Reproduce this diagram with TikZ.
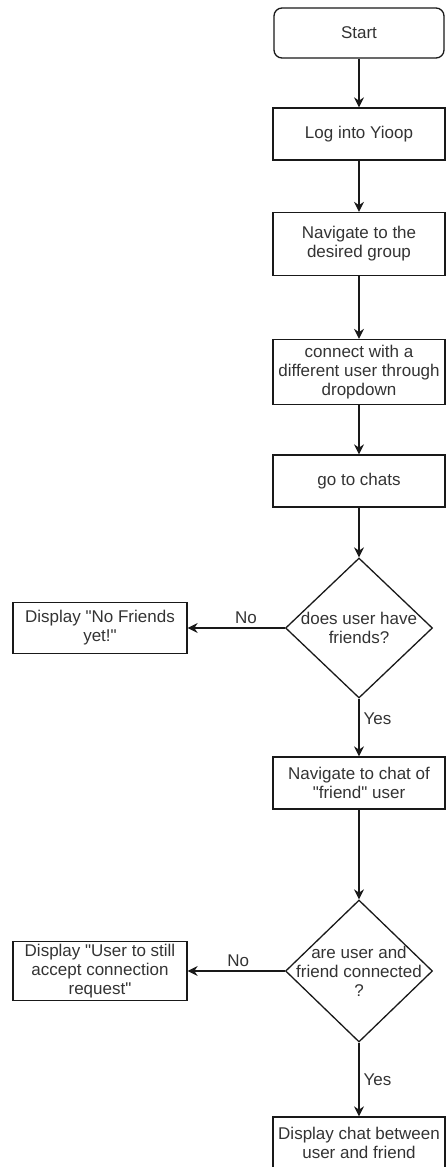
\documentclass[tikz,border=0pt]{standalone}
\usepackage{fontspec}
\setmainfont{Liberation Sans}[Ligatures=TeXOff]
\usetikzlibrary{shapes.geometric,arrows.meta}
\begin{document}
\begin{tikzpicture}[x=1pt,y=-1pt,font=\fontsize{17}{19}\selectfont]
	\tikzset{flow_box/.style={draw=black!90,line width=1.3pt,minimum width=172pt,minimum height=52pt,align=center,inner sep=0pt,text=black!80}}
	\tikzset{start_box/.style={flow_box,rounded corners=8pt,minimum width=170pt,minimum height=50pt}}
	\tikzset{decision_box/.style={draw=black!90,line width=1.3pt,shape=diamond,minimum width=147pt,minimum height=140pt,inner sep=0pt}}
	\tikzset{flow_arrow/.style={draw=black!90,line width=1.3pt,-{Stealth[length=10pt,width=10pt]}}}
	\tikzset{edge_text/.style={text=black!80,inner sep=4pt}}
	\useasboundingbox (0,0) rectangle (445,1167);
	\node[start_box] (start) at (359, 33) {Start};
	\node[flow_box] (login) at (359, 134) {Log into Yioop};
	\node[flow_box,minimum height=63pt] (group) at (359, 244) {Navigate to the\\desired group};
	\node[flow_box,minimum height=65pt] (connect) at (359, 372) {connect with a\\different user through\\dropdown};
	\node[flow_box] (chats) at (359, 481) {go to chats};
	\node[decision_box,label={[align=center,text=black!80]center:does user have\\friends?}] (friends) at (359, 628) {};
	\node[flow_box,minimum width=174pt,minimum height=51pt] (nofriends) at (100, 628) {Display "No Friends\\yet!"};
	\node[flow_box] (chatof) at (359, 783) {Navigate to chat of\\"friend" user};
	\node[decision_box,minimum height=142pt,label={[align=center,text=black!80]center:are user and\\friend connected\\?}] (connected) at (359, 971) {};
	\node[flow_box,minimum width=174pt,minimum height=59pt] (pending) at (100, 971) {Display "User to still\\accept connection\\request"};
	\node[flow_box] (display) at (359, 1143) {Display chat between\\user and friend};
	\draw[flow_arrow] (start) -- (login);
	\draw[flow_arrow] (login) -- (group);
	\draw[flow_arrow] (group) -- (connect);
	\draw[flow_arrow] (connect) -- (chats);
	\draw[flow_arrow] (chats) -- (friends);
	\draw[flow_arrow] (friends) -- node[edge_text,above,pos=0.4] {No} (nofriends);
	\draw[flow_arrow] (friends) -- node[edge_text,right,pos=0.34] {Yes} (chatof);
	\draw[flow_arrow] (chatof) -- (connected);
	\draw[flow_arrow] (connected) -- node[edge_text,above,pos=0.48] {No} (pending);
	\draw[flow_arrow] (connected) -- node[edge_text,right,pos=0.5] {Yes} (display);
\end{tikzpicture}
\end{document}
